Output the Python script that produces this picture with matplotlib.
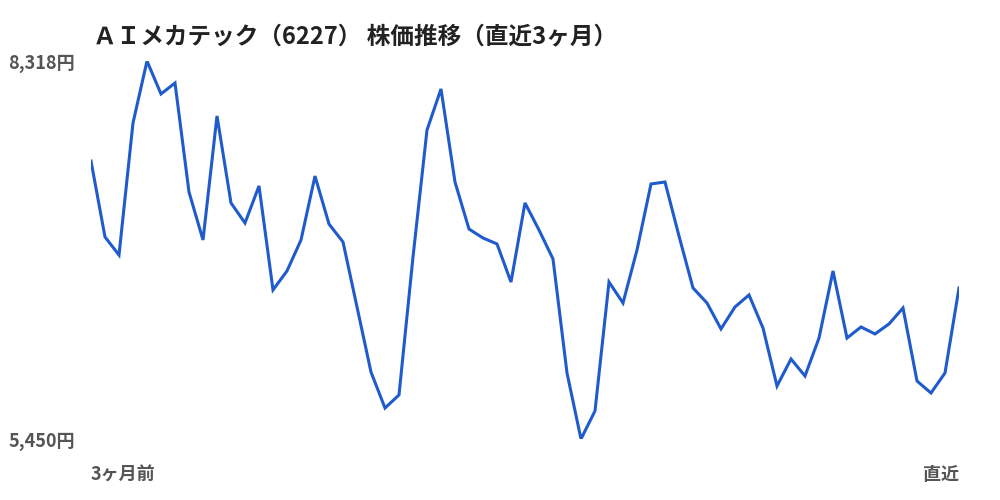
import matplotlib
matplotlib.use("Agg")
import matplotlib.pyplot as plt

plt.rcParams['font.family'] = ['Noto Sans CJK JP', 'DejaVu Sans']

title = "ＡＩメカテック（6227） 株価推移（直近3ヶ月）"
y_min_label = "5,450円"
y_max_label = "8,318円"
x_start_label = "3ヶ月前"
x_end_label = "直近"
y_min = 5450
y_max = 8318

prices = [
    7559, 6983, 6846, 7848, 8318, 8068, 8151, 7324, 6960, 7901,
    7241, 7089, 7370, 6581, 6725, 6960, 7445, 7081, 6945, 6452,
    5958, 5685, 5784, 6831, 7794, 8106, 7400, 7043, 6975, 6930,
    6641, 7241, 7036, 6816, 5951, 5450, 5663, 6641, 6482, 6884,
    7385, 7400, 6990, 6596, 6482, 6285, 6452, 6543, 6292, 5852,
    6057, 5928, 6216, 6725, 6216, 6300, 6247, 6323, 6444, 5890,
    5799, 5951, 6596,
]
days = list(range(len(prices)))

fig = plt.figure(figsize=(10, 5), dpi=100)
ax = fig.add_axes([0.091, 0.122, 0.868, 0.756])
ax.plot(days, prices, color='#1f5bcc', linewidth=2.2, solid_joinstyle='miter')
ax.set_xlim(days[0], days[-1])
ax.set_ylim(y_min, y_max)
for s in ax.spines.values():
    s.set_visible(False)

ax.set_yticks([y_min, y_max])
ax.set_yticklabels([y_min_label, y_max_label], fontsize=13, color='#555555', fontweight='bold')
ax.set_xticks([days[0], days[-1]])
xl = ax.set_xticklabels([x_start_label, x_end_label], fontsize=13, color='#555555', fontweight='bold')
xl[0].set_ha('left')
xl[1].set_ha('right')
ax.tick_params(axis='both', length=0)
ax.tick_params(axis='y', pad=11.5)
ax.tick_params(axis='x', pad=19)

fig.text(0.093, 0.928, title, fontsize=17, fontweight='bold', color='#222222',
         ha='left', va='center')

fig.savefig('out.png', dpi=100)
